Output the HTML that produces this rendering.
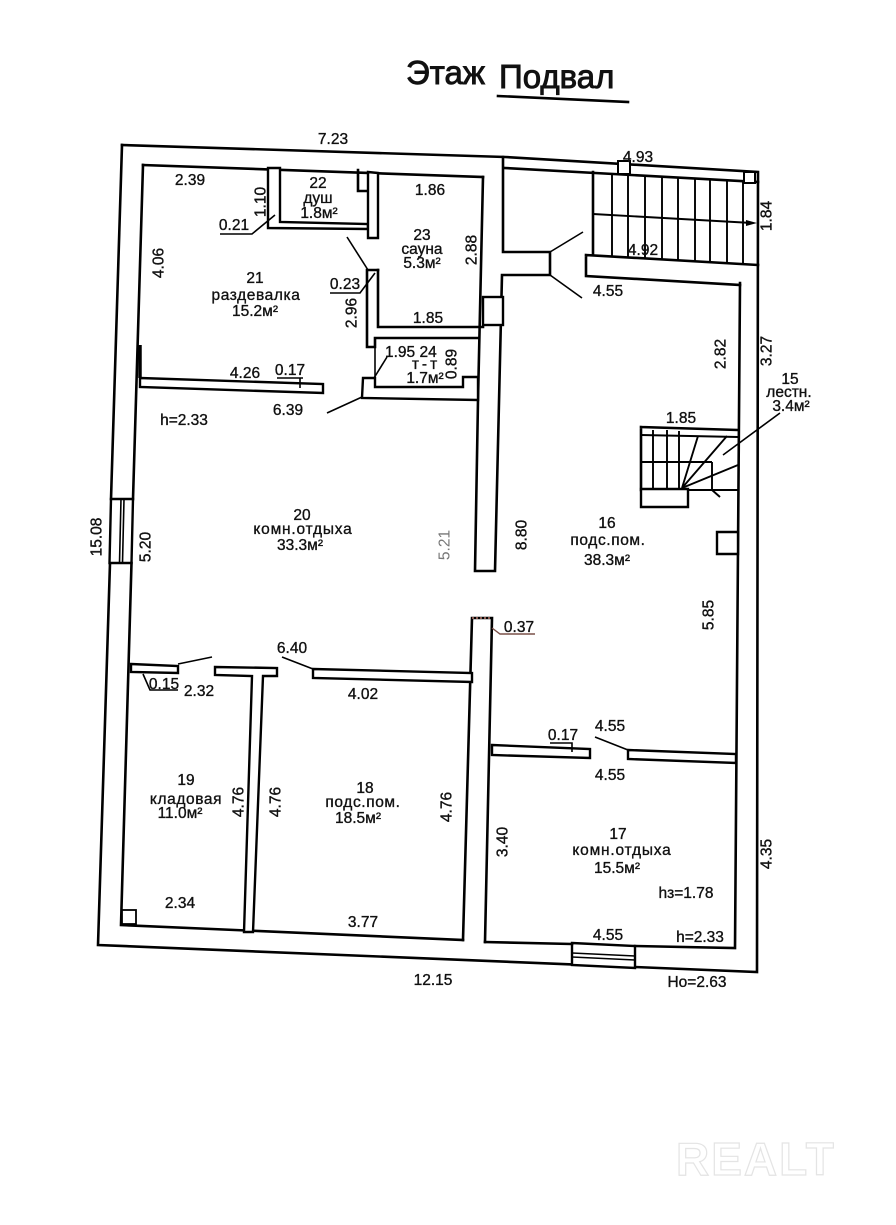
<!DOCTYPE html>
<html>
<head>
<meta charset="utf-8">
<style>
  html,body{margin:0;padding:0;background:#fff;}
  svg{display:block;}
  text{font-family:"Liberation Sans","DejaVu Sans",sans-serif;fill:#111;}
  .t{font-size:15.5px;text-anchor:middle;stroke:#111;stroke-width:0.35;}
  .s{font-size:15.5px;text-anchor:start;stroke:#111;stroke-width:0.35;}
  .r{font-size:15.5px;text-anchor:middle;dominant-baseline:central;stroke:#111;stroke-width:0.35;}
  .w{fill:#fff;stroke:#000;stroke-width:2.4;stroke-linejoin:miter;}
  .l{fill:none;stroke:#000;stroke-width:2.6;stroke-linecap:square;}
  .th{fill:none;stroke:#000;stroke-width:1.6;}
  .tr{fill:none;stroke:#000;stroke-width:1.9;}
</style>
</head>
<body>
<svg width="896" height="1225" viewBox="0 0 896 1225" xmlns="http://www.w3.org/2000/svg">
  <rect x="0" y="0" width="896" height="1225" fill="#fff"/>

  <!-- Title -->
  <text x="406" y="84" style="font-size:33px;stroke:#111;stroke-width:0.9;">Этаж</text>
  <text x="499" y="88" style="font-size:33px;stroke:#111;stroke-width:0.9;">Подвал</text>
  <path d="M498,96 L628,102" class="l"/>

  <!-- Outer wall -->
  <path d="M122,145 L505,157 L758,172 L757,972 L98,945 L110,563" class="l"/>
  <path d="M111,499 L122,145" class="l"/>
  <!-- left window -->
  <polygon points="111,499 133,499 131.5,563 109.5,563" class="w"/>
  <path d="M121,499 L119.5,563 M124,499 L122.5,563" class="th"/>
  <!-- bottom window -->
  <polygon points="572,943 635,946 635,968 572,965" class="w"/>
  <path d="M572,953 L635,956 M572,957 L635,960" class="th"/>

  <!-- Inner boundary lines -->
  <path d="M143,165 L133,499 M131.5,563 L121,925 L463,940" class="l"/>
  <path d="M485,942 L572,944 M635,946 L735,948 L740,283" class="l"/>
  <path d="M143,165 L483,177" class="l"/>

  <!-- central wall upper -->
  <path d="M483,177 L478,400 L475,571 L495,571 L502,275 L550,275 L550,252 L503,252 L503,157" class="l"/>
  <rect x="483" y="297" width="20" height="28" class="w"/>
  <!-- vestibule door -->
  <path d="M550,252 L583,232 M550,275 L582,298" class="th"/>

  <!-- central wall lower -->
  <path d="M463,940 L472,618 L492,618 L485,942" class="l"/>
  <path d="M472,618 L492,618" stroke="#8a5a50" stroke-width="2" stroke-dasharray="2,2" fill="none"/>
  <path d="M492,628 L500,634 L535,634" stroke="#7a5048" stroke-width="1.4" fill="none"/>

  <!-- top-right stairs -->
  <path d="M505,168 L758,182" class="l"/>
  <path d="M593,172 L593,255" class="l"/>
  <path d="M586,255 L758,265 M586,255 L586,276 L740,285" class="l"/>
  <g class="tr">
    <path d="M612,174 L612,256"/>
    <path d="M628,175 L628,257"/>
    <path d="M645,176 L645,258"/>
    <path d="M662,177 L662,259"/>
    <path d="M678,178 L678,260"/>
    <path d="M695,179 L695,261"/>
    <path d="M710,179 L710,262"/>
    <path d="M727,180 L727,263"/>
    <path d="M743,181 L743,264"/>
    <path d="M593,214 L752,223"/>
  </g>
  <polygon points="746,220 757,223 746,226" fill="#000"/>
  <rect x="618" y="161" width="12" height="13" class="w" style="stroke-width:2"/>
  <rect x="744" y="172" width="11" height="11" class="w" style="stroke-width:2"/>

  <!-- room 21 bottom partition -->
  <polygon points="140,378 323,384 323,393 140,387" class="w"/>
  <path d="M140,345 L140,378" stroke="#000" stroke-width="3.5"/>
  <path d="M277,378 L303,378 M300,378 L300,388" class="th"/>

  <!-- room 22 walls -->
  <polygon points="268,168 280,168 280,222 368,224 368,229 268,228" class="w"/>
  <path d="M358,170 L358,191 L368,191" class="l"/>
  <polygon points="368,172 378,173 378,238 368,238" class="w"/>

  <!-- sauna lower-left wall and bottom -->
  <path d="M378,270 L378,327 L483,327" class="l"/>
  <path d="M367,270 L378,270 M367,270 L367,347 L375,347 L375,338 L478,338" class="l"/>
  <path d="M375,338 L375,378" class="th"/>
  <!-- toilet bottom wall -->
  <polygon points="363,378 375,378 375,387 463,387 463,377 478,377 478,400 362,398" class="w"/>

  <!-- leaders / doors upper left -->
  <path d="M220,234 L252,234 L275,215" class="th"/>
  <path d="M330,293 L360,293 L375,273" class="th"/>
  <path d="M347,237 L368,270" class="th"/>
  <path d="M387,357 L374,378" class="th"/>
  <path d="M327,413 L362,397" class="th"/>

  <!-- partitions rooms 19/18 -->
  <polygon points="131,664 178,666 178,673 131,672" class="w"/>
  <path d="M178,664 L212,657" class="th"/>
  <path d="M143,674 L150,690 L178,690" class="th"/>
  <polygon points="215,667 277,668 277,676 263,676 253,932 244,932 252,676 215,675" class="w"/>
  <polygon points="313,669 472,673 472,682 313,678" class="w"/>
  <path d="M313,669 L282,657" class="th"/>
  <rect x="122" y="910" width="14" height="14" class="w" style="stroke-width:1.8"/>

  <!-- partitions 16/17 -->
  <polygon points="492,745 590,749 590,758 492,755" class="w"/>
  <polygon points="628,750 736,754 736,763 628,759" class="w"/>
  <path d="M628,750 L595,737" class="th"/>
  <path d="M550,743 L572,743 L572,752" class="th"/>
  <polygon points="717,532 738,532 738,554 717,554" class="w"/>

  <!-- inner stair 15 -->
  <path d="M641,427 L738,430 M641,427 L641,490" class="l"/>
  <polygon points="641,489 688,489 688,507 641,507" class="w"/>
  <g class="tr">
    <path d="M641,435 L738,437"/>
    <path d="M641,462 L712,462"/>
    <path d="M653,430 L653,489 M667,430 L667,489 M679,431 L679,489"/>
    <path d="M682,488 L698,436 M682,488 L727,436 M682,488 L738,465"/>
    <path d="M712,462 L712,490 M688,490 L738,490"/>
    <path d="M712,490 L720,497"/>
  </g>
  <path d="M723,455 L780,413" class="th"/>

  <!-- ===== Labels ===== -->
  <text class="t" x="333" y="144">7.23</text>
  <text class="t" x="638" y="162">4.93</text>
  <text class="t" x="190" y="185">2.39</text>
  <text class="t" x="318" y="188">22</text>
  <text class="t" x="318" y="203">душ</text>
  <text class="t" x="319" y="218">1.8м²</text>
  <text class="t" x="430" y="195">1.86</text>
  <text class="t" x="422" y="240">23</text>
  <text class="t" x="422" y="254">сауна</text>
  <text class="t" x="422" y="268">5.3м²</text>
  <text class="t" x="234" y="230">0.21</text>
  <text class="t" x="255" y="283">21</text>
  <text class="t" x="256" y="300" style="letter-spacing:0.6px">раздевалка</text>
  <text class="t" x="255" y="316">15.2м²</text>
  <text class="t" x="345" y="289">0.23</text>
  <text class="t" x="428" y="323">1.85</text>
  <text class="s" x="385" y="357">1.95 24</text>
  <text class="t" x="426" y="369" style="letter-spacing:3px">т-т</text>
  <text class="t" x="425" y="383">1.7м²</text>
  <text class="t" x="245" y="378">4.26</text>
  <text class="t" x="290" y="375">0.17</text>
  <text class="t" x="288" y="415">6.39</text>
  <text class="t" x="184" y="425">h=2.33</text>
  <text class="t" x="643" y="255">4.92</text>
  <text class="t" x="608" y="296">4.55</text>
  <text class="t" x="790" y="384">15</text>
  <text class="t" x="789" y="397">лестн.</text>
  <text class="t" x="791" y="411">3.4м²</text>
  <text class="t" x="681" y="423">1.85</text>
  <text class="t" x="302" y="520">20</text>
  <text class="t" x="303" y="534" style="letter-spacing:0.8px">комн.отдыха</text>
  <text class="t" x="300" y="550">33.3м²</text>
  <text class="t" x="607" y="528">16</text>
  <text class="t" x="608" y="545" style="letter-spacing:0.6px">подс.пом.</text>
  <text class="t" x="607" y="565">38.3м²</text>
  <text class="t" x="519" y="632">0.37</text>
  <text class="t" x="292" y="653">6.40</text>
  <text class="t" x="164" y="689">0.15</text>
  <text class="t" x="199" y="696">2.32</text>
  <text class="t" x="363" y="699">4.02</text>
  <text class="t" x="186" y="785">19</text>
  <text class="t" x="186" y="804" style="letter-spacing:0.6px">кладовая</text>
  <text class="t" x="180" y="818">11.0м²</text>
  <text class="t" x="365" y="793">18</text>
  <text class="t" x="363" y="807" style="letter-spacing:0.6px">подс.пом.</text>
  <text class="t" x="358" y="823">18.5м²</text>
  <text class="t" x="180" y="908">2.34</text>
  <text class="t" x="363" y="927">3.77</text>
  <text class="t" x="433" y="985">12.15</text>
  <text class="t" x="610" y="731">4.55</text>
  <text class="t" x="563" y="740">0.17</text>
  <text class="t" x="610" y="780">4.55</text>
  <text class="t" x="618" y="839">17</text>
  <text class="t" x="622" y="855" style="letter-spacing:0.8px">комн.отдыха</text>
  <text class="t" x="617" y="873">15.5м²</text>
  <text class="t" x="686" y="898">hз=1.78</text>
  <text class="t" x="608" y="940">4.55</text>
  <text class="t" x="700" y="942">h=2.33</text>
  <text class="t" x="697" y="987">Hо=2.63</text>

  <!-- rotated labels -->
  <text class="r" transform="translate(261,202) rotate(-90)">1.10</text>
  <text class="r" transform="translate(159,263) rotate(-90)">4.06</text>
  <text class="r" transform="translate(472,250) rotate(-90)">2.88</text>
  <text class="r" transform="translate(352,313) rotate(-90)">2.96</text>
  <text class="r" transform="translate(452,364) rotate(-90)">0.89</text>
  <text class="r" transform="translate(767,216) rotate(-90)">1.84</text>
  <text class="r" transform="translate(721,354) rotate(-90)">2.82</text>
  <text class="r" transform="translate(767,351) rotate(-90)">3.27</text>
  <text class="r" transform="translate(146,547) rotate(-90)">5.20</text>
  <text class="r" transform="translate(445,545) rotate(-90)" style="fill:#777;stroke:none">5.21</text>
  <text class="r" transform="translate(97,537) rotate(-90)">15.08</text>
  <text class="r" transform="translate(522,535) rotate(-90)">8.80</text>
  <text class="r" transform="translate(709,615) rotate(-90)">5.85</text>
  <text class="r" transform="translate(239,802) rotate(-90)">4.76</text>
  <text class="r" transform="translate(276,802) rotate(-90)">4.76</text>
  <text class="r" transform="translate(447,807) rotate(-90)">4.76</text>
  <text class="r" transform="translate(503,842) rotate(-90)">3.40</text>
  <text class="r" transform="translate(767,854) rotate(-90)">4.35</text>

  <!-- faint watermark -->
  <text x="676" y="1175" style="font-size:46px;font-weight:bold;fill:none;stroke:#e4e4e4;stroke-width:1.2;letter-spacing:2px">REALT</text>
</svg>
</body>
</html>
